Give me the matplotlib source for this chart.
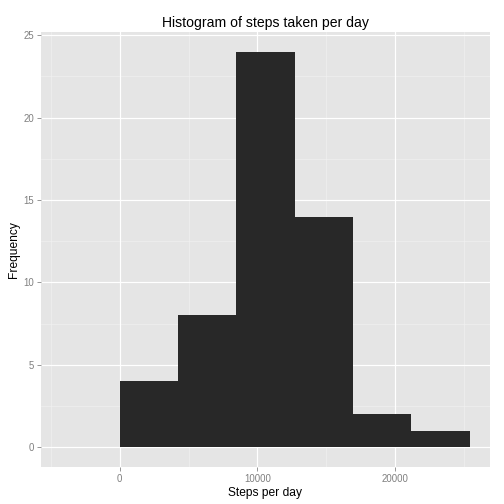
import numpy as np
import matplotlib
matplotlib.use("Agg")
import matplotlib.pyplot as plt

# Data
bin_width = 4238.8
bin_starts = [0.0, 4238.8, 8477.6, 12716.4, 16955.2, 21194.0]
counts = [4, 8, 24, 14, 2, 1]
x_ticks = [0, 10000, 20000]
x_tick_labels = ["0", "10000", "20000"]
y_ticks = [0, 5, 10, 15, 20, 25]
title = "Histogram of steps taken per day"
xlabel = "Steps per day"
ylabel = "Frequency"

plt.rcParams['font.family'] = ['Liberation Sans', 'DejaVu Sans']

fig = plt.figure(figsize=(7, 7), dpi=72)
ax = fig.add_axes([41/504, 37/504, 449/504, 435/504])
ax.set_facecolor("#E5E5E5")

xmin_range = -bin_width
xmax_range = bin_starts[-1] + bin_width
R = xmax_range - xmin_range
ax.set_xlim(xmin_range - 0.05*R, xmax_range + 0.05*R)
ymax = max(counts)
ax.set_ylim(-0.05*ymax, ymax*1.05 + 0.0)

# grid
for v in [-5000, 5000, 15000, 25000]:
    ax.axvline(v, color="#F2F2F2", lw=0.6, zorder=0.5)
for v in [2.5, 7.5, 12.5, 17.5, 22.5]:
    ax.axhline(v, color="#F2F2F2", lw=0.6, zorder=0.5)
for v in x_ticks:
    ax.axvline(v, color="white", lw=1.2, zorder=0.6)
for v in y_ticks:
    ax.axhline(v, color="white", lw=1.2, zorder=0.6)

ax.bar(bin_starts, counts, width=bin_width, align="edge", color="#282828", lw=0, zorder=2)

for s in ax.spines.values():
    s.set_visible(False)

ax.set_xticks(x_ticks)
ax.set_xticklabels(x_tick_labels)
ax.set_yticks(y_ticks)
ax.tick_params(axis="both", colors="#7F7F7F", labelcolor="#7F7F7F", labelsize=9.6, length=4, width=0.8, pad=3)

ax.set_xlabel(xlabel, fontsize=12, color="black", labelpad=3)
ax.set_ylabel(ylabel, fontsize=12, color="black", labelpad=3)
ax.set_title(title, fontsize=14, color="black", pad=5)

fig.savefig("out.png", dpi=72)
